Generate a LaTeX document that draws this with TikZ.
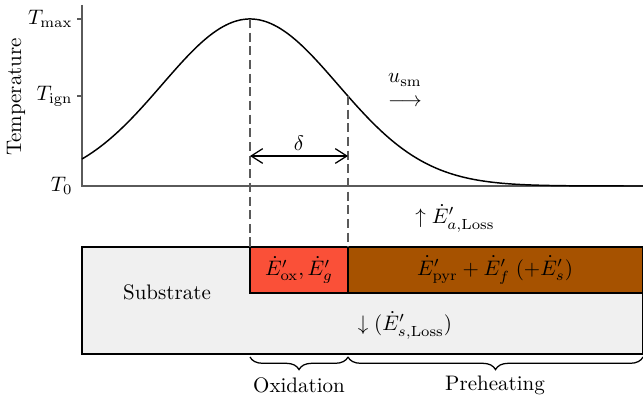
\documentclass[tikz,border=0pt]{standalone}
\usetikzlibrary{arrows.meta,decorations.pathreplacing}
\definecolor{oxred}{RGB}{250,80,56}
\definecolor{pyrbrown}{RGB}{166,82,0}
\definecolor{subgray}{RGB}{240,240,240}
\definecolor{axisgray}{RGB}{90,90,90}
\begin{document}
\begin{tikzpicture}[x=0.476pt,y=-0.476pt,
  axisline/.style={axisgray, line width=0.6pt},
  guide/.style={axisgray, line width=0.5pt, dash pattern=on 4.3pt off 2.2pt},
  lbl/.style={inner sep=1pt},
  bracestyle/.style={decorate, decoration={brace, mirror, amplitude=6pt}, line width=0.6pt},
  zonebox/.style={draw=black, line width=0.6pt}]
\useasboundingbox (0,0) rectangle (643,406);
% axes
\coordinate (origin) at (82,186);
\coordinate (ytop) at (82,5);
\coordinate (xend) at (643,186);
\draw[axisline] (ytop) -- (origin) -- (xend);
\draw[axisline] (77,19) -- (82,19);
\draw[axisline] (77,96) -- (82,96);
\node[lbl, anchor=east] (tmax) at (75,19) {$T_{\max}$};
\node[lbl, anchor=east] (tign) at (75,96) {$T_{\mathrm{ign}}$};
\node[lbl, anchor=east] (tzero) at (75,186) {$T_0$};
\node[lbl, rotate=90] (templ) at (16,97) {Temperature};
% curve
\draw[black, line width=0.7pt] plot[domain=82:643, samples=250] (\x, {186-167*exp(-0.5*((\x-250)/88)^2)});
\coordinate (peak) at (250,19);
\coordinate (ignpt) at (348,96);
% substrate
\draw[fill=subgray, line width=1pt] (82,247) rectangle (643,354);
\node[lbl] (sub) at (167,292) {Substrate};
% zones
\draw[zonebox, fill=oxred] (250,247) rectangle (348,293);
\draw[zonebox, fill=pyrbrown] (348,247) rectangle (643,293);
\draw[line width=1pt] (82,247) -- (643,247);
\coordinate (oxnw) at (250,247);
\coordinate (oxne) at (348,247);
\node[lbl] (oxl) at (299,270) {$\dot{E}'_{\mathrm{ox}},\dot{E}'_{g}$};
\node[lbl] (pyl) at (495,270) {$\dot{E}'_{\mathrm{pyr}}+\dot{E}'_{f}\;(+\dot{E}'_{s})$};
\node[lbl] (sloss) at (405,325) {$\downarrow(\dot{E}'_{s,\mathrm{Loss}})$};
\node[lbl] (aloss) at (455,218) {$\uparrow\dot{E}'_{a,\mathrm{Loss}}$};
% guides
\draw[guide] (peak) -- (oxnw);
\draw[guide] (ignpt) -- (oxne);
% delta
\coordinate (dl) at (250,156);
\coordinate (dr) at (348,156);
\draw[{Straight Barb[length=5.5pt,width=7pt]}-{Straight Barb[length=5.5pt,width=7pt]}, line width=0.6pt] (dl) -- (dr);
\node[lbl] (delta) at (299,143) {$\delta$};
% speed
\node[lbl] (usm) at (405,80) {$u_{\mathrm{sm}}$};
\node[lbl] (uarrow) at (405,103) {$\longrightarrow$};
% braces
\coordinate (b1) at (250,357);
\coordinate (b2) at (348,357);
\coordinate (b3) at (643,357);
\draw[bracestyle] (b1) -- (b2);
\draw[bracestyle] (b2) -- (b3);
\node[lbl] (oxid) at (299,385) {Oxidation};
\node[lbl] (preh) at (495,385) {Preheating};
\end{tikzpicture}
\end{document}
